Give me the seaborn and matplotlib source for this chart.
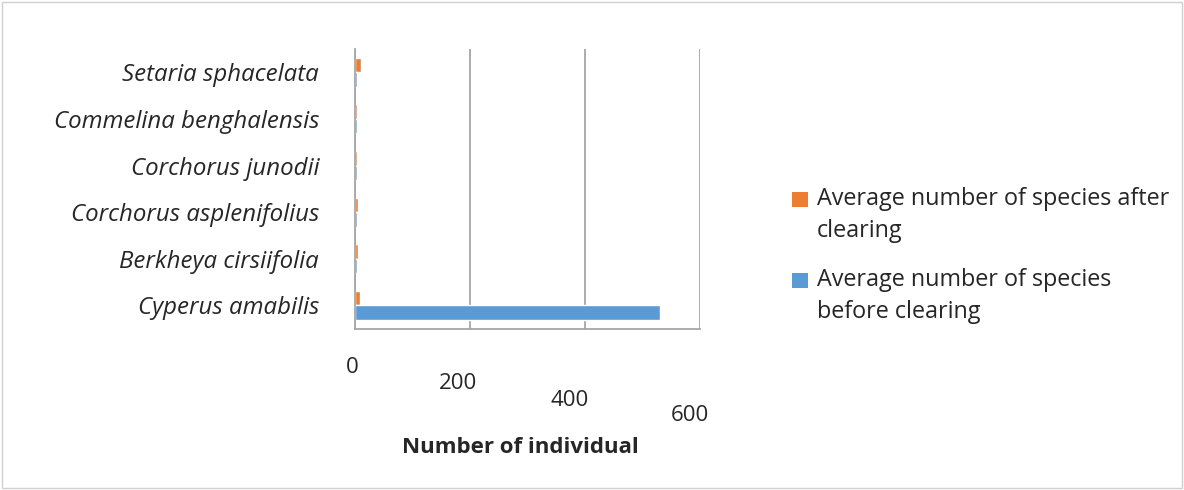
import matplotlib
matplotlib.use("Agg")
import matplotlib.pyplot as plt
import matplotlib.transforms as mtransforms
from matplotlib.legend_handler import HandlerBase
from matplotlib.patches import Rectangle
import seaborn as sns
import pandas as pd

species = ["Setaria sphacelata", "Commelina benghalensis", "Corchorus junodii",
           "Corchorus asplenifolius", "Berkheya cirsiifolia", "Cyperus amabilis"]
after_clearing = [10, 4, 4, 5, 5, 8]
before_clearing = [3, 3, 3, 3, 3, 530]
series_names = ["Average number of species after\nclearing",
                "Average number of species\nbefore clearing"]
x_ticks = [0, 200, 400, 600]
colors = ["#ED7D31", "#5B9BD5"]

df = pd.DataFrame({
    "species": species * 2,
    "value": after_clearing + before_clearing,
    "series": [series_names[0]] * len(species) + [series_names[1]] * len(species),
})


class FirstLineSquare(HandlerBase):
    """Square legend key aligned with the first line of a wrapped label."""
    def create_artists(self, legend, orig_handle, xdescent, ydescent, width, height,
                       fontsize, trans):
        src = orig_handle.patches[0] if hasattr(orig_handle, "patches") else orig_handle
        s = 0.65 * fontsize
        cy = height / 2 - ydescent + 0.69 * fontsize
        r = Rectangle((-xdescent, cy - s / 2), s, s, facecolor=src.get_facecolor(),
                      edgecolor="none", transform=trans)
        return [r]


sns.set_theme(style="white")
plt.rcParams["font.family"] = ["Open Sans", "DejaVu Sans"]

fig = plt.figure(figsize=(11.84, 4.9), dpi=100)
ax = fig.add_axes([0.30, 0.329, 0.291, 0.571])
sns.barplot(data=df, y="species", x="value", hue="series", order=species,
            hue_order=series_names, palette=colors, orient="h", ax=ax,
            width=0.62, saturation=1, legend=True)

ax.set_xlim(0, 600)
ax.set_xticks(x_ticks)
ax.set_xticklabels([str(t) for t in x_ticks], fontsize=16)
ax.tick_params(axis="x", length=0, pad=20)
ax.tick_params(axis="y", length=0, pad=26)
# stagger tick labels like the perspective view of the original
offsets = [(-3, 0), (-12, -16), (-15, -33), (-10, -48)]
for lbl, (dx, dy) in zip(ax.get_xticklabels(), offsets):
    lbl.set_transform(lbl.get_transform() +
                      mtransforms.ScaledTranslation(dx / 100, dy / 100, fig.dpi_scale_trans))
for lbl in ax.get_yticklabels():
    lbl.set_fontstyle("italic")
    lbl.set_fontsize(17.3)
ax.set_ylabel("")
ax.set_xlabel("Number of individual", fontsize=16, fontweight="bold")
ax.xaxis.set_label_coords(0.48, -0.385)
ax.xaxis.grid(True, color="#a6a6a6", linewidth=1.3)
ax.set_axisbelow(True)
for s in ["top", "right"]:
    ax.spines[s].set_visible(False)
for s in ["left", "bottom"]:
    ax.spines[s].set_color("#a6a6a6")
    ax.spines[s].set_linewidth(1.3)

handles, labels = ax.get_legend_handles_labels()
ax.get_legend().remove()
leg = fig.legend(handles, labels, loc="center left", bbox_to_anchor=(0.6515, 0.479),
                 frameon=False, fontsize=16.8, handlelength=0.65, handleheight=0.65,
                 labelspacing=1.05, handletextpad=0.4,
                 handler_map={h: FirstLineSquare() for h in handles})
for t in leg.get_texts():
    t.set_linespacing(1.45)

fig.patches.append(plt.Rectangle((0.002, 0.004), 0.996, 0.992, transform=fig.transFigure,
                                 fill=False, edgecolor="#d0d0d0", linewidth=1))
fig.savefig("out.png", dpi=100, facecolor="white")
